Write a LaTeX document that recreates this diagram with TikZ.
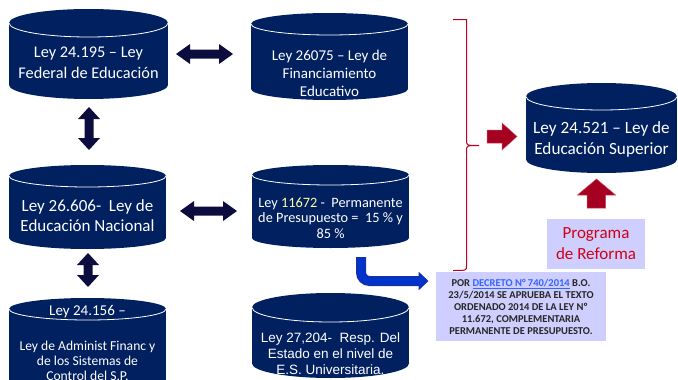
\documentclass[tikz,border=0pt]{standalone}
\usepackage{fontspec}
\setmainfont{Carlito}
\newfontfamily\arialf{Liberation Sans}
\definecolor{cylnavy}{RGB}{0,32,96}
\definecolor{arrnavy}{RGB}{12,12,62}
\definecolor{bluefill}{RGB}{0,51,204}
\definecolor{blueline}{RGB}{30,50,150}
\definecolor{redfill}{RGB}{165,0,33}
\definecolor{redline}{RGB}{205,70,90}
\definecolor{bracered}{RGB}{192,0,32}
\definecolor{lavender}{RGB}{206,206,255}
\definecolor{progred}{RGB}{210,0,20}
\definecolor{yel}{RGB}{255,255,160}
\definecolor{linkblue}{RGB}{51,102,255}
\definecolor{dectext}{RGB}{38,38,38}
\newcommand{\cylinderat}[5]{% cx, rx, ytop-centre, ry, ybottom-centre
  \fill[cylnavy] (#1-#2,#3) rectangle (#1+#2,#5);
  \fill[cylnavy] (#1,#3) ellipse[x radius=#2,y radius=#4];
  \fill[cylnavy] (#1,#5) ellipse[x radius=#2,y radius=#4];
  \draw[white,line width=0.8] (#1-#2,#3) arc[start angle=180,end angle=0,x radius=#2,y radius=#4];}
\newcommand{\dblarrowH}[3]{% x1, x2, yc
  \fill[arrnavy] (#1,#3) -- (#1+14,#3-10) -- (#1+14,#3-4.5) -- (#2-14,#3-4.5) -- (#2-14,#3-10) -- (#2,#3)
    -- (#2-14,#3+10) -- (#2-14,#3+4.5) -- (#1+14,#3+4.5) -- (#1+14,#3+10) -- cycle;}
\newcommand{\dblarrowV}[3]{% y1, y2, xc
  \fill[arrnavy] (#3,#1) -- (#3-11,#1+12) -- (#3-4.5,#1+12) -- (#3-4.5,#2-12) -- (#3-11,#2-12) -- (#3,#2)
    -- (#3+11,#2-12) -- (#3+4.5,#2-12) -- (#3+4.5,#1+12) -- (#3+11,#1+12) -- cycle;}
\tikzset{
  cyltext/.style={text=white,align=center,inner sep=0pt},
  lavbox/.style={fill=lavender,inner sep=0pt,align=center},
  redarrow/.style={fill=redfill,draw=redline,line width=0.5}
}
\begin{document}
\begin{tikzpicture}[x=1pt,y=-1pt]
\useasboundingbox (0,0) rectangle (678,380);
\clip (0,0) rectangle (678,380);

% cylinders
\cylinderat{88.5}{79.5}{23}{14}{85}
\cylinderat{329.5}{78.5}{24}{11}{89}
\cylinderat{87.5}{78.5}{176}{11}{238}
\cylinderat{330.5}{78.5}{175}{10}{238}
\cylinderat{87.5}{78.5}{309}{11}{392}
\cylinderat{330.5}{78.5}{307.5}{14.5}{363.5}
\cylinderat{601.5}{75.5}{96.5}{13.5}{159.5}

% texts
\node[cyltext,font=\fontsize{16.3}{21}\selectfont] (lfe) at (88.5,63) {Ley 24.195 – Ley\\Federal de Educación};
\node[cyltext,font=\fontsize{15}{18}\selectfont] (lfin) at (329.5,73.5) {Ley 26075 – Ley de\\Financiamiento\\Educativo};
\node[cyltext,font=\fontsize{17}{20}\selectfont] (len) at (87.5,215.5) {Ley 26.606-\ \ Ley de\\Educación Nacional};
\node[cyltext,font=\fontsize{14.3}{15.5}\selectfont] (lpp) at (330.5,218) {Ley {\color{yel}11672} -\ \ Permanente\\de Presupuesto =\ \ 15 \% y\\85 \%};
\node[cyltext,font=\fontsize{15}{18}\selectfont] (lafa) at (87.5,312) {Ley 24.156 –};
\node[cyltext,font=\fontsize{13.6}{15}\selectfont] (lafb) at (87.5,361) {Ley de Administ Financ y\\de los Sistemas de\\Control del S.P.};
\node[cyltext,font=\arialf\fontsize{13.5}{16}\selectfont] (lres) at (330.5,353.5) {Ley 27,204-\ \ Resp. Del\\Estado en el nivel de\\E.S. Universitaria.};
\node[cyltext,font=\fontsize{17.2}{21}\selectfont] (les) at (601.5,139) {Ley 24.521 – Ley de\\Educación Superior};

% navy double arrows
\dblarrowH{176}{233}{54}
\dblarrowH{180}{237}{211}
\dblarrowV{107}{150}{89}
\dblarrowV{253}{287}{88}

% boxes
\node[lavbox,minimum width=98,minimum height=50,text=progred,font=\fontsize{17}{21}\selectfont] (prog) at (596,244) {Programa\\de Reforma};
\node[lavbox,minimum width=170,minimum height=69,text=dectext,font=\bfseries\fontsize{10.5}{12}\selectfont] (dec) at (521,306.5)
  {POR {\color{linkblue}\underline{DECRETO N° 740/2014}} B.O.\\23/5/2014 SE APRUEBA EL TEXTO\\ORDENADO 2014 DE LA LEY Nº\\11.672, COMPLEMENTARIA\\PERMANENTE DE PRESUPUESTO.};

% brace
\draw[bracered,line width=1] (453,19.5) -- (466.5,19.5) -- (466.5,140)
  .. controls (466.5,145.5) .. (479,145.5)
  (479,145.5) .. controls (466.5,145.5) .. (466.5,151) -- (466.5,266)
  .. controls (466.5,270.5) .. (453,270.5);

% red arrows
\draw[redarrow] (487,130) -- (502,130) -- (502,123) -- (517,136.5) -- (502,150) -- (502,143) -- (487,143) -- cycle;
\draw[redarrow] (587,208) -- (587,195) -- (577.5,195) -- (596.5,179) -- (615.5,195) -- (605.5,195) -- (605.5,208) -- cycle;

% blue bent arrow
\draw[blueline,line width=10,rounded corners=8.5] (361,257) |- (420,281);
\fill[bluefill,draw=blueline,line width=0.6] (419,272.5) -- (428,281) -- (419,289.5) -- cycle;
\draw[bluefill,line width=8.4,rounded corners=8.5] (361,257.6) |- (420,281);
\end{tikzpicture}
\end{document}
